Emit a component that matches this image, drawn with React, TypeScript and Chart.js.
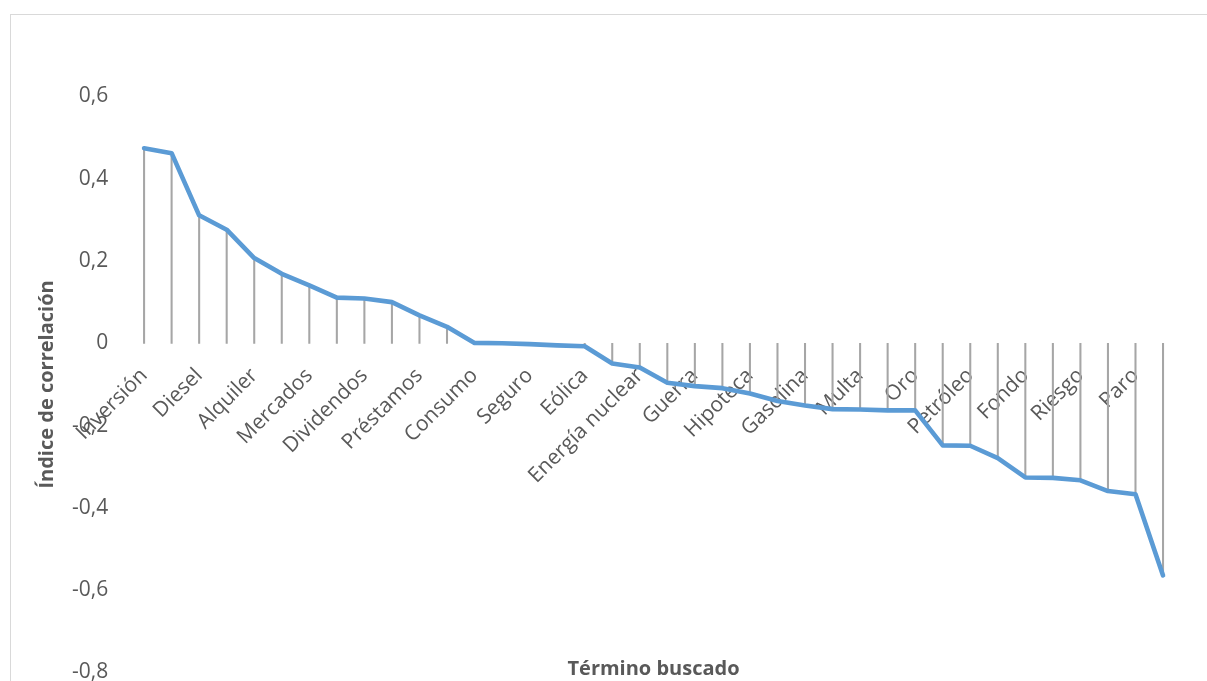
import React, { useEffect, useRef } from "react";
import { Chart, registerables } from "chart.js";

Chart.register(...registerables);

// Category names (only every other term is labelled in the source chart)
const categories: string[] = [
  "Inversión", "", "Diesel", "", "Alquiler", "", "Mercados", "", "Dividendos", "",
  "Préstamos", "", "Consumo", "", "Seguro", "", "Eólica", "", "Energía nuclear", "",
  "Guerra", "", "Hipoteca", "", "Gasolina", "", "Multa", "", "Oro", "",
  "Petróleo", "", "Fondo", "", "Riesgo", "", "Paro", "",
];

// Correlation index per term
const correlations: number[] = [
  0.474, 0.462, 0.311, 0.276, 0.207, 0.169, 0.141, 0.111, 0.109, 0.100,
  0.068, 0.040, 0.001, 0.000, -0.002, -0.005, -0.007, -0.049, -0.059, -0.096,
  -0.104, -0.109, -0.122, -0.140, -0.151, -0.160, -0.161, -0.163, -0.163, -0.248,
  -0.249, -0.279, -0.326, -0.327, -0.333, -0.359, -0.367, -0.564,
];

const yTitle = "Índice de correlación";
const xTitle = "Término buscado";
const yMin = -0.8;
const yMax = 0.6;
const yStep = 0.2;

const FONT = "'Open Sans', 'Noto Sans', sans-serif";
const TEXT = "#595959";

export default function App() {
  const ref = useRef<HTMLCanvasElement | null>(null);

  useEffect(() => {
    if (!ref.current) return;
    const xTitlePlugin = {
      id: "xTitlePlugin",
      afterDraw(chart: any) {
        const { ctx, chartArea } = chart;
        ctx.save();
        ctx.font = `bold 20px ${FONT}`;
        ctx.fillStyle = TEXT;
        ctx.textAlign = "center";
        ctx.textBaseline = "middle";
        ctx.fillText(xTitle, (chartArea.left + chartArea.right) / 2, chartArea.bottom - 3);
        ctx.restore();
      },
    };
    const chart = new Chart(ref.current, {
      type: "bar",
      data: {
        labels: categories,
        datasets: [
          {
            type: "line",
            data: correlations,
            borderColor: "#5b9bd5",
            backgroundColor: "#5b9bd5",
            borderWidth: 4.6,
            pointRadius: 0,
            tension: 0,
            borderCapStyle: "round",
            borderJoinStyle: "round",
            order: 0,
          } as any,
          {
            type: "bar",
            data: correlations,
            backgroundColor: "#a6a6a6",
            barThickness: 1.4,
            order: 1,
          } as any,
        ],
      },
      options: {
        responsive: false,
        animation: false,
        devicePixelRatio: 1,
        layout: { padding: { left: 0, top: 81.4, right: 30.2, bottom: 42.5 } },
        plugins: { legend: { display: false }, tooltip: { enabled: false } },
        scales: {
          x: {
            position: { y: 0 } as any,
            offset: true,
            grid: { display: false, drawTicks: false },
            border: { display: false },
            ticks: {
              autoSkip: false,
              maxRotation: 45,
              minRotation: 45,
              padding: 20,
              color: TEXT,
              font: { family: FONT, size: 21 },
            },
          },
          y: {
            min: yMin,
            max: yMax,
            grid: { display: false, drawTicks: false },
            border: { display: false },
            afterFit: (scale: any) => {
              scale.width = 119.3;
            },
            ticks: {
              stepSize: yStep,
              padding: 22,
              color: TEXT,
              font: { family: FONT, size: 21 },
              callback: (v: any) => {
                const n = Math.round(Number(v) * 10) / 10;
                return n === 0 ? "0" : n.toFixed(1).replace(".", ",");
              },
            },
            title: {
              display: true,
              text: yTitle,
              color: TEXT,
              font: { family: FONT, size: 20, weight: "bold" },
              padding: { top: 24, bottom: 0 },
            },
          },
        },
      },
      plugins: [xTitlePlugin],
    });
    return () => chart.destroy();
  }, []);

  return (
    <div
      style={{
        position: "absolute",
        left: 10,
        top: 14,
        width: 1197,
        height: 667,
        boxSizing: "border-box",
        overflow: "hidden",
        borderLeft: "1px solid #d9d9d9",
        borderTop: "1px solid #d9d9d9",
        background: "#fff",
      }}
    >
      <canvas ref={ref} width={1196} height={700} style={{ display: "block" }} />
    </div>
  );
}
